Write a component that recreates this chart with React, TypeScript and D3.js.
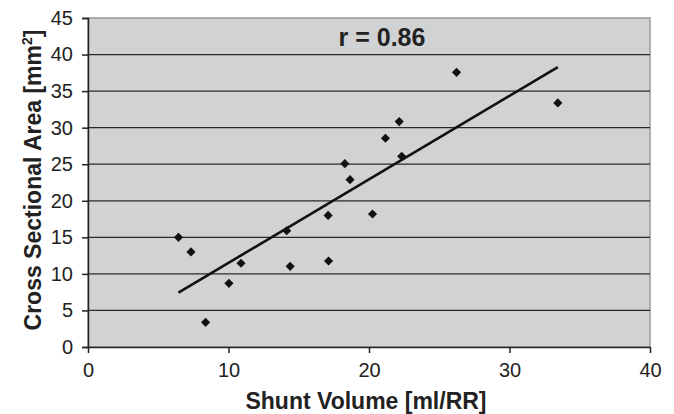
import React, { useEffect, useRef } from "react";
import * as d3 from "d3";

// shunt volume [ml/RR] vs cross sectional area [mm2]
const shuntVolume = [6.44, 7.33, 8.37, 10.03, 10.89, 14.14, 14.39, 17.09, 17.12, 18.28, 18.65, 20.25, 21.17, 22.15, 22.33, 26.23, 33.44];
const crossArea = [15.0, 13.0, 3.37, 8.71, 11.45, 15.9, 11.03, 18.0, 11.76, 25.08, 22.89, 18.19, 28.55, 30.83, 26.08, 37.57, 33.38];
const xTicks = [0, 10, 20, 30, 40];
const yTicks = [0, 5, 10, 15, 20, 25, 30, 35, 40, 45];
const rLabel = "r = 0.86";

const W = 674, H = 414;
const left = 88, right = 650, top = 18, bottom = 347;
const FONT = "'Liberation Sans', Arial, Helvetica, sans-serif";

const App = () => {
    const ref = useRef<SVGSVGElement>(null);

    useEffect(() => {
        const svg = d3.select(ref.current);
        svg.selectAll("*").remove();

        const x = d3.scaleLinear().domain([0, 40]).range([left, right]);
        const y = d3.scaleLinear().domain([0, 45]).range([bottom, top]);

        // plot background
        svg.append("rect")
            .attr("x", left).attr("y", top)
            .attr("width", right - left).attr("height", bottom - top)
            .attr("fill", "#d1d2d4")
            .attr("stroke", "#9a9a9a")
            .attr("stroke-width", 1.5);

        // horizontal grid
        svg.append("g")
            .selectAll("line")
            .data(yTicks.filter(t => t > 0 && t < 45))
            .enter()
            .append("line")
            .attr("x1", left).attr("x2", right)
            .attr("y1", d => y(d)).attr("y2", d => y(d))
            .attr("stroke", "#2a2a2a")
            .attr("stroke-width", 1.3);

        // y axis
        const yAxis = d3.axisLeft(y).tickValues(yTicks).tickSize(6).tickPadding(9);
        const gy = svg.append("g")
            .attr("transform", "translate(" + left + ",0)")
            .call(yAxis);
        gy.selectAll("path, line").attr("stroke", "#222").attr("stroke-width", 1.5);
        gy.selectAll("text")
            .attr("font-family", FONT).attr("font-size", 20).attr("fill", "#222");

        // x axis
        const xAxis = d3.axisBottom(x).tickValues(xTicks).tickSize(6).tickSizeOuter(0).tickPadding(10);
        const gx = svg.append("g")
            .attr("transform", "translate(0," + bottom + ")")
            .call(xAxis);
        gx.selectAll("path, line").attr("stroke", "#222").attr("stroke-width", 1.5);
        gx.selectAll("text")
            .attr("font-family", FONT).attr("font-size", 20).attr("fill", "#222");

        // regression line
        const pts = shuntVolume.map((v, i) => [v, crossArea[i]] as [number, number]);
        const mx = d3.mean(shuntVolume) as number;
        const my = d3.mean(crossArea) as number;
        const sxy = d3.sum(pts, p => (p[0] - mx) * (p[1] - my));
        const sxx = d3.sum(pts, p => (p[0] - mx) * (p[0] - mx));
        const slope = sxy / sxx;
        const icpt = my - slope * mx;
        const [x0, x1] = d3.extent(shuntVolume) as [number, number];
        svg.append("path")
            .datum([x0, x1])
            .attr("d", d3.line<number>().x(d => x(d)).y(d => y(slope * d + icpt)))
            .attr("stroke", "#111")
            .attr("stroke-width", 2.6)
            .attr("fill", "none");

        // points
        const diamond = d3.symbol().type(d3.symbolSquare).size(42);
        svg.append("g")
            .selectAll("path")
            .data(pts)
            .enter()
            .append("path")
            .attr("d", diamond)
            .attr("transform", d => "translate(" + x(d[0]) + "," + y(d[1]) + ") rotate(45)")
            .attr("fill", "#111");

        svg.append("text")
            .attr("x", 382).attr("y", 46)
            .attr("text-anchor", "middle")
            .attr("font-family", FONT).attr("font-weight", "bold").attr("font-size", 25)
            .attr("fill", "#222")
            .text(rLabel);

        svg.append("text")
            .attr("x", 366).attr("y", 409)
            .attr("text-anchor", "middle")
            .attr("font-family", FONT).attr("font-weight", "bold").attr("font-size", 23)
            .attr("fill", "#222")
            .text("Shunt Volume [ml/RR]");

        const yt = svg.append("text")
            .attr("transform", "translate(41,180) rotate(-90)")
            .attr("text-anchor", "middle")
            .attr("font-family", FONT).attr("font-weight", "bold").attr("font-size", 23)
            .attr("fill", "#222");
        yt.append("tspan").text("Cross Sectional Area [mm");
        yt.append("tspan").attr("dy", -9).attr("font-size", 14).text("2");
        yt.append("tspan").attr("dy", 9).text("]");
    }, []);

    return (
        <div style={{ position: "fixed", left: 0, top: 0 }}>
            <svg ref={ref} width={W} height={H} style={{ display: "block", background: "#fff" }} />
        </div>
    );
};

export default App;
